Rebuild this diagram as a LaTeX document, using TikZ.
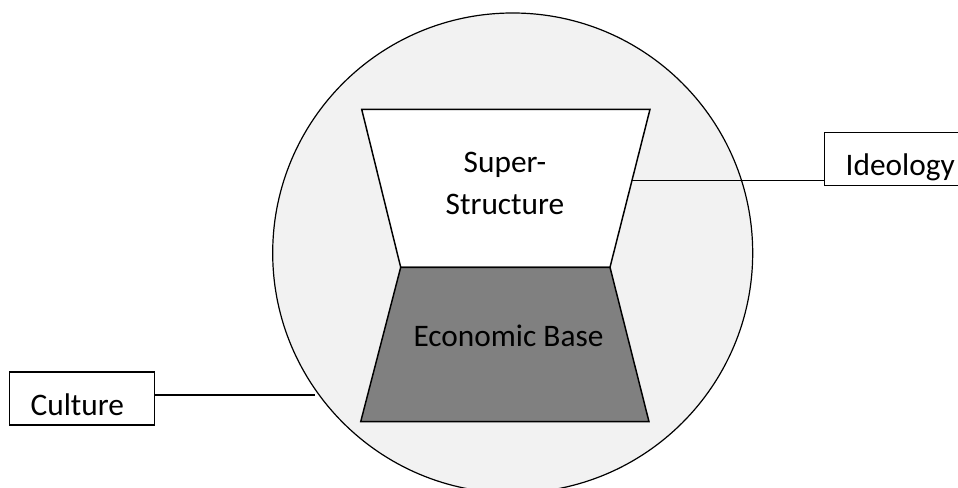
\documentclass[tikz,border=0pt]{standalone}
\usepackage{fontspec}
\setmainfont{Carlito}
\definecolor{circlefill}{HTML}{F2F2F2}
\definecolor{basefill}{HTML}{808080}
\begin{document}
\begin{tikzpicture}[x=0.75pt,y=-0.75pt,
  outline/.style={draw=black,line width=1.1pt,line join=miter},
  label box/.style={draw=black,line width=1pt,fill=white,minimum height=39.75pt,
    inner xsep=15.75pt,inner ysep=0pt,align=left,text height=25.5pt,text depth=0pt,
    anchor=west,font=\fontsize{23.5}{31.5}\selectfont},
  connector/.style={draw=black,line width=0.8pt},
  txt/.style={font=\fontsize{23.5}{31.5}\selectfont,inner sep=0pt,align=center}]

\useasboundingbox (0,0) rectangle (958,488);
\clip (0,0) rectangle (958,488);
\fill[white] (0,0) rectangle (958,488);

% surrounding society
\node[circle,draw=black,line width=0.9pt,fill=circlefill,minimum size=360pt,inner sep=0pt] (world) at (512.7,253) {};

% corners of the two trapezoids
\coordinate (sTL) at (361.7,109.3);
\coordinate (sTR) at (650,109.3);
\coordinate (sBR) at (610,267.3);
\coordinate (sBL) at (400.7,267.3);
\coordinate (bBL) at (360.7,421.7);
\coordinate (bBR) at (649,421.7);

\filldraw[outline,fill=white] (sTL) -- (sTR) -- (sBR) -- (sBL) -- cycle;
\filldraw[outline,fill=basefill] (sBL) -- (sBR) -- (bBR) -- (bBL) -- cycle;

\node[txt] (super) at (505,183) {Super-\\Structure};
\node[txt,anchor=base] (base) at (508.5,346.7) {Economic Base};

% side labels
\node[label box,text width=84pt] (ideology) at (824,159) {Ideology};
\node[label box,text width=77.25pt] (culture) at (9,398.5) {Culture};

% connectors
\coordinate (ideoFoot) at (631.8,180.7);
\draw[connector] (ideoFoot) -- (ideoFoot -| ideology.west);
\coordinate (cultFoot) at (315,395);
\draw[connector] (culture.east |- cultFoot) -- (cultFoot);
\end{tikzpicture}
\end{document}
